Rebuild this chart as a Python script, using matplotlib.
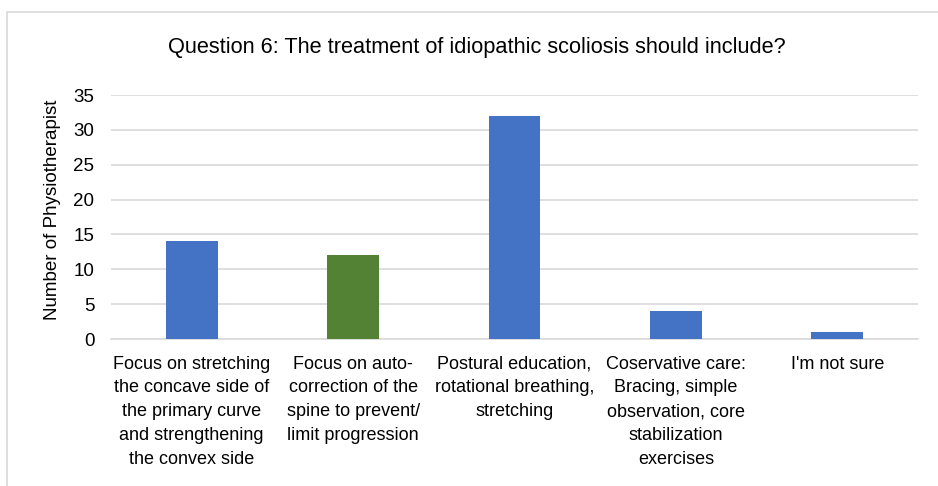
import matplotlib.pyplot as plt
from matplotlib.patches import Rectangle

# Survey responses for question 6
categories = [
    "Focus on stretching\nthe concave side of\nthe primary curve\nand strengthening\nthe convex side",
    "Focus on auto-\ncorrection of the\nspine to prevent/\nlimit progression",
    "Postural education,\nrotational breathing,\nstretching",
    "Coservative care:\nBracing, simple\nobservation, core\nstabilization\nexercises",
    "I'm not sure",
]
counts = [14, 12, 32, 4, 1]
bar_colors = ["#4472C4", "#548235", "#4472C4", "#4472C4", "#4472C4"]
y_ticks = [0, 5, 10, 15, 20, 25, 30, 35]

plt.rcParams['font.family'] = ['Liberation Sans', 'DejaVu Sans']

fig = plt.figure(figsize=(9.38, 4.86), dpi=100)
ax = fig.add_axes([111 / 938, 1 - 339 / 486, (918 - 111) / 938, 244 / 486])

# outer chart frame
fig.patches.append(Rectangle((7 / 938, -0.1), 1.2, 1 - 12 / 486 + 0.1,
                             transform=fig.transFigure, fill=False,
                             edgecolor="#D9D9D9", linewidth=1.2))

x = range(len(categories))
ax.bar(x, counts, width=0.32, color=bar_colors, zorder=3)

ax.set_xlim(-0.5, len(categories) - 0.5)
ax.set_ylim(0, 35)
ax.set_yticks(y_ticks)
ax.set_xticks(list(x))
ax.set_xticklabels(categories, fontsize=13, linespacing=1.52, va="top")
ax.tick_params(axis="y", labelsize=13.5, length=0, pad=12)
ax.tick_params(axis="x", length=0, pad=12)
ax.grid(axis="y", color="#D9D9D9", linewidth=1.2, zorder=0)
for side in ["top", "right", "left"]:
    ax.spines[side].set_visible(False)
ax.spines["bottom"].set_color("#D9D9D9")
ax.spines["bottom"].set_linewidth(1.2)

ax.set_ylabel("Number of Physiotherapist", fontsize=13.5)
ax.yaxis.set_label_coords(-0.062, 0.53)
fig.text(477 / 938, 1 - 48 / 486, "Question 6: The treatment of idiopathic scoliosis should include?",
         ha="center", va="center", fontsize=15.7)

fig.savefig("out.png", dpi=100)
